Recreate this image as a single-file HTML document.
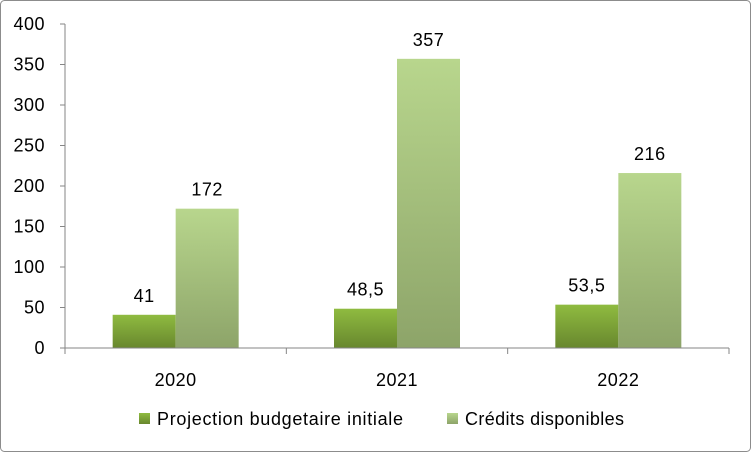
<!DOCTYPE html>
<html><head><meta charset="utf-8"><style>
body{margin:0;background:#fff}
svg{display:block;font-family:"Liberation Sans",Calibri,sans-serif}
</style></head><body>
<svg id="c" width="751" height="452">
<defs>
<linearGradient id="gd" x1="0" y1="0" x2="0" y2="1"><stop offset="0" stop-color="#8fbb40"/><stop offset="1" stop-color="#68872e"/></linearGradient>
<linearGradient id="gl" x1="0" y1="0" x2="0" y2="1"><stop offset="0" stop-color="#b8d68d"/><stop offset="1" stop-color="#8da469"/></linearGradient>
</defs>
<rect x="0.5" y="0.5" width="750" height="451" rx="4" fill="#fff" stroke="#8c8c8c"/>
</svg>
<script>
const categories=["2020","2021","2022"];
const projection=[41,48.5,53.5];
const credits=[172,357,216];
const projLabels=["41","48,5","53,5"];
const creditLabels=["172","357","216"];
const yTicks=[0,50,100,150,200,250,300,350,400];
const svg=document.getElementById('c');
const NS="http://www.w3.org/2000/svg";
const x0=65,x1=729,y0=348,yTop=24,yMax=400;
const cw=(x1-x0)/categories.length;
const y=v=>y0-(v/yMax)*(y0-yTop);
function mk(t,a,txt){const e=document.createElementNS(NS,t);for(const k in a)e.setAttribute(k,a[k]);if(txt!==undefined)e.textContent=txt;svg.appendChild(e);return e;}
let ax=mk('line',{x1:x0,y1:yTop,x2:x0,y2:y0,stroke:'#868686'});


yTicks.forEach(v=>{
 const t=mk('line',{x1:x0-5,x2:x0,y1:y(v),y2:y(v),stroke:'#868686'});
 
 
 const l=mk('text',{x:x0-20,y:y(v)+6,'text-anchor':'end','font-size':18,'letter-spacing':0.5,fill:'#000'},String(v));
 
 
});
const bw=63;
categories.forEach((c,i)=>{
 const cx=x0+cw*(i+0.5);
 const b1=mk('rect',{x:cx-bw,y:y(projection[i]),width:bw,height:y0-y(projection[i]),fill:'url(#gd)'});
 
 
 const b2=mk('rect',{x:cx,y:y(credits[i]),width:bw,height:y0-y(credits[i]),fill:'url(#gl)'});
 
 
 const l1=mk('text',{x:cx-bw/2,y:y(projection[i])-13,'text-anchor':'middle','font-size':18,'letter-spacing':0.5},projLabels[i]);
 
 
 const l2=mk('text',{x:cx+bw/2,y:y(credits[i])-13,'text-anchor':'middle','font-size':18,'letter-spacing':0.5},creditLabels[i]);
 
 
 const cl=mk('text',{x:cx,y:386,'text-anchor':'middle','font-size':18,'letter-spacing':0.5},c);
 
 
});
for(let i=0;i<=categories.length;i++){
 const t=mk('line',{x1:x0+cw*i,x2:x0+cw*i,y1:y0,y2:y0+6,stroke:'#868686'});
 
 
}
let xa=mk('line',{x1:x0,y1:y0,x2:x1,y2:y0,stroke:'#868686'});


const lg=[["Projection budgetaire initiale","url(#gd)",139,246],["Crédits disponibles","url(#gl)",447,159]];
lg.forEach(([t,f,x,w])=>{
 const r=mk('rect',{x:x,y:413,width:11,height:11,fill:f});
 
 
 const tx=mk('text',{x:x+18,y:425,'font-size':18,textLength:w,lengthAdjust:'spacing'},t);
 
 
});
</script>
</body></html>
